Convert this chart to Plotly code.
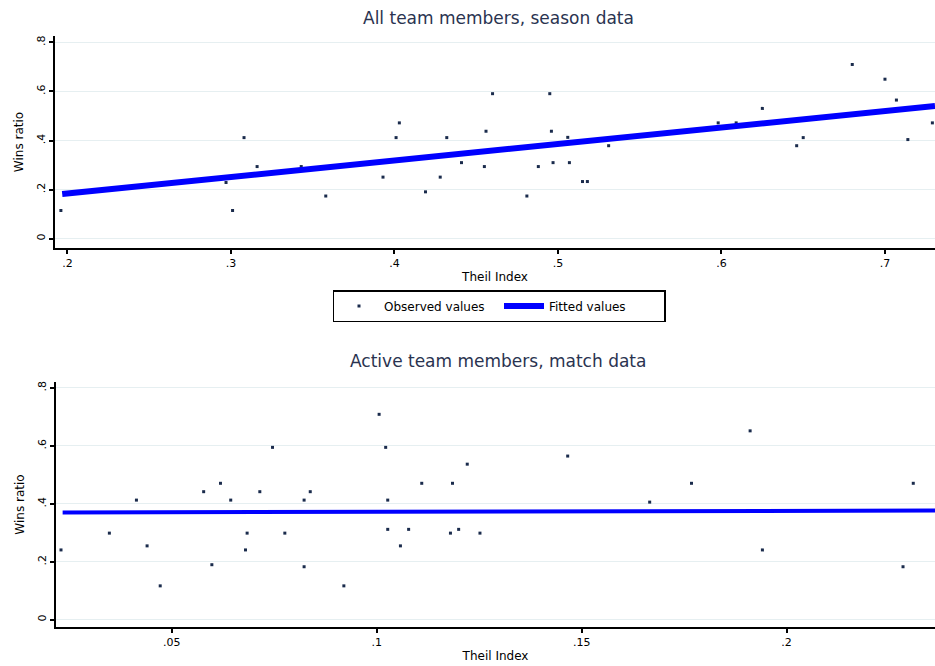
import plotly.graph_objects as go

# ---- Data: top panel (All team members, season data) ----
season_theil = [0.196, 0.297, 0.301, 0.308, 0.316, 0.343, 0.358, 0.393, 0.401, 0.403,
                0.419, 0.428, 0.432, 0.441, 0.455, 0.456, 0.460, 0.481, 0.488, 0.495,
                0.496, 0.497, 0.506, 0.507, 0.515, 0.518, 0.531, 0.598, 0.609, 0.625,
                0.646, 0.650, 0.680, 0.700, 0.707, 0.714, 0.729]
season_wins = [0.115, 0.229, 0.115, 0.412, 0.294, 0.294, 0.174, 0.251, 0.412, 0.472,
               0.191, 0.251, 0.412, 0.310, 0.294, 0.438, 0.591, 0.174, 0.294, 0.591,
               0.438, 0.310, 0.413, 0.310, 0.233, 0.233, 0.379, 0.472, 0.472, 0.531,
               0.379, 0.412, 0.710, 0.650, 0.565, 0.404, 0.472]
season_fit_x = [0.1968, 0.7306]
season_fit_y = [0.182, 0.541]

# ---- Data: bottom panel (Active team members, match data) ----
match_theil = [0.0230, 0.0348, 0.0414, 0.0440, 0.0472, 0.0578, 0.0598, 0.0619, 0.0644, 0.0680,
               0.0684, 0.0715, 0.0746, 0.0776, 0.0823, 0.0823, 0.0838, 0.0920, 0.1006, 0.1022,
               0.1027, 0.1027, 0.1058, 0.1078, 0.1110, 0.1180, 0.1185, 0.1200, 0.1221, 0.1252,
               0.1466, 0.1666, 0.1768, 0.1911, 0.1941, 0.2284, 0.2309]
match_wins = [0.241, 0.299, 0.413, 0.255, 0.117, 0.442, 0.190, 0.471, 0.413, 0.241,
              0.299, 0.442, 0.595, 0.299, 0.413, 0.183, 0.442, 0.117, 0.709, 0.595,
              0.413, 0.312, 0.255, 0.312, 0.471, 0.299, 0.471, 0.312, 0.537, 0.299,
              0.565, 0.406, 0.471, 0.652, 0.241, 0.183, 0.471]
match_fit_x = [0.0234, 0.2362]
match_fit_y = [0.370, 0.377]

# ---- Tick labels ----
y_tickvals = [0, 0.2, 0.4, 0.6, 0.8]
y_ticktext = ["0", ".2", ".4", ".6", ".8"]
top_x_tickvals = [0.2, 0.3, 0.4, 0.5, 0.6, 0.7]
top_x_ticktext = [".2", ".3", ".4", ".5", ".6", ".7"]
bot_x_tickvals = [0.05, 0.1, 0.15, 0.2]
bot_x_ticktext = [".05", ".1", ".15", ".2"]

titles = ["All team members, season data", "Active team members, match data"]

W, H = 935, 666
L = 55
PW = W - L
MARKER = "#1a2b4c"
FIT = "#0000ff"
GRID = "#e6eff1"
FONT = "DejaVu Sans, Verdana, sans-serif"
TITLE_COLOR = "#2a3350"

fig = go.Figure()
fig.add_trace(go.Scatter(x=season_theil, y=season_wins, mode="markers", name="Observed values",
                         marker=dict(size=3, color=MARKER, symbol="square"),
                         xaxis="x", yaxis="y", showlegend=True))
fig.add_trace(go.Scatter(x=season_fit_x, y=season_fit_y, mode="lines", name="Fitted values",
                         line=dict(color=FIT, width=6), xaxis="x", yaxis="y", showlegend=True))
fig.add_trace(go.Scatter(x=match_theil, y=match_wins, mode="markers", name="Observed values",
                         marker=dict(size=3, color=MARKER, symbol="square"),
                         xaxis="x2", yaxis="y2", showlegend=False))
fig.add_trace(go.Scatter(x=match_fit_x, y=match_fit_y, mode="lines", name="Fitted values",
                         line=dict(color=FIT, width=4), xaxis="x2", yaxis="y2", showlegend=False))

def yax(domain, rng, anchor):
    return dict(domain=domain, range=rng, anchor=anchor, tickvals=y_tickvals, ticktext=y_ticktext,
                tickangle=-90, showline=True, linecolor="black", linewidth=2,
                ticks="outside", ticklen=4, tickwidth=1.5, tickcolor="black",
                showgrid=True, gridcolor=GRID, gridwidth=1, zeroline=False, automargin=False,
                tickfont=dict(size=11, color="black", family=FONT),
                title=dict(text="Wins ratio", font=dict(size=12, color="black", family=FONT), standoff=8))

def xax(domain, rng, anchor, tv, tt):
    return dict(domain=domain, range=rng, anchor=anchor, tickvals=tv, ticktext=tt,
                showline=True, linecolor="black", linewidth=2,
                ticks="outside", ticklen=4, tickwidth=1.5, tickcolor="black",
                showgrid=False, zeroline=False, automargin=False,
                tickfont=dict(size=11, color="black", family=FONT),
                title=dict(text="Theil Index", font=dict(size=12, color="black", family=FONT), standoff=3))

fig.update_layout(
    width=W, height=H, margin=dict(l=L, r=0, t=0, b=0, pad=0),
    paper_bgcolor="white", plot_bgcolor="white",
    font=dict(family=FONT),
    xaxis=xax([0, 1], [0.1924, 0.7306], "y", top_x_tickvals, top_x_ticktext),
    yaxis=yax([1 - 248 / H, 1 - 36 / H], [-0.0378, 0.826], "x"),
    xaxis2=xax([1 / PW, 1], [0.02178, 0.2362], "y2", bot_x_tickvals, bot_x_ticktext),
    yaxis2=yax([1 - 627 / H, 1 - 382 / H], [-0.025, 0.8206], "x2"),
    legend=dict(orientation="h", x=(499 - L) / PW, y=1 - 306 / H, xanchor="center", yanchor="middle",
                bordercolor="black", borderwidth=1.5, bgcolor="white",
                font=dict(size=12, color="black", family=FONT),
                entrywidth=110, entrywidthmode="pixels", itemwidth=40),
    annotations=[
        dict(text=titles[0], x=(498 - L) / PW, y=1 - 18 / H, xref="paper", yref="paper", showarrow=False,
             font=dict(size=17, color=TITLE_COLOR, family=FONT), xanchor="center", yanchor="middle"),
        dict(text=titles[1], x=(498 - L) / PW, y=1 - 361 / H, xref="paper", yref="paper", showarrow=False,
             font=dict(size=17, color=TITLE_COLOR, family=FONT), xanchor="center", yanchor="middle"),
    ],
)

fig.write_html("out.html", config={"displayModeBar": False},
               post_script="document.body.style.margin='0px';document.body.style.overflow='hidden';")
